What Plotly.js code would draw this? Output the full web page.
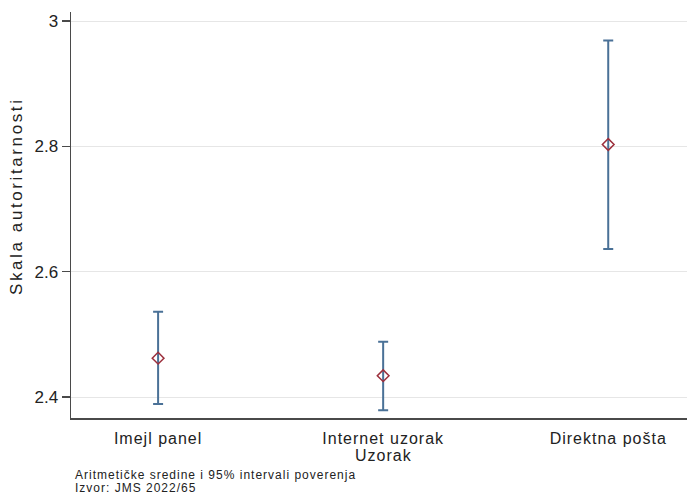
<!DOCTYPE html>
<html>
<head>
<meta charset="utf-8">
<script src="https://cdn.plot.ly/plotly-3.0.1.min.js"></script>
<style>html,body{margin:0;padding:0;background:#fff;}#chart{width:687px;height:499px;}</style>
</head>
<body>
<div id="chart"></div>
<script>
const categories = ["Imejl panel", "Internet uzorak", "Direktna pošta"];
const positions = [1, 2, 3];
const means = [2.462, 2.434, 2.803];
const upper = [2.536, 2.488, 2.969];
const lower = [2.389, 2.379, 2.636];
const yTicks = [2.4, 2.6, 2.8, 3];
const yTickLabels = ["2.4", "2.6", "2.8", "3"];
const yTitle = "Skala autoritarnosti";
const xTitle = "Uzorak";
const noteLines = ["Aritmetičke sredine i 95% intervali poverenja", "Izvor: JMS 2022/65"];

const errPlus = means.map((m, i) => upper[i] - m);
const errMinus = means.map((m, i) => m - lower[i]);

const trace = {
  type: "scatter",
  mode: "markers",
  x: positions,
  y: means,
  marker: {symbol: "diamond-open", size: 9, color: "#9c2f3c", line: {width: 1.5, color: "#9c2f3c"}},
  error_y: {type: "data", symmetric: false, array: errPlus, arrayminus: errMinus,
            color: "#4a7197", thickness: 2, width: 5},
  cliponaxis: false,
  hoverinfo: "skip"
};

const font = "Liberation Sans, Arial, sans-serif";
const W = 687, H = 499;
const mL = 71, mR = 0, mT = 12, mB = 81;
const pw = W - mL - mR, ph = H - mT - mB;
const px = x => (x - mL) / pw;
const py = y => (H - mB - y) / ph;
const NOTE_LEFT = 75;

const layout = {
  width: W, height: H,
  margin: {l: mL, r: mR, t: mT, b: mB},
  paper_bgcolor: "#fff", plot_bgcolor: "#fff",
  showlegend: false,
  font: {family: font, color: "#222"},
  xaxis: {
    range: [0.613, 3.35],
    tickvals: positions, ticktext: categories,
    showgrid: false, zeroline: false,
    showline: true, linecolor: "#4a4a4a", linewidth: 1.5,
    ticks: "", ticklabelstandoff: 5,
    tickfont: {size: 16, color: "#222", family: font}
  },
  yaxis: {
    range: [2.3665, 3.0144],
    tickvals: yTicks, ticktext: yTickLabels,
    showgrid: true, gridcolor: "#e6e6e6", gridwidth: 1,
    zeroline: false, showline: true, linecolor: "#4a4a4a", linewidth: 1.5,
    ticks: "outside", ticklen: 8, tickcolor: "#4a4a4a", tickwidth: 1.5,
    tickfont: {size: 17, color: "#222", family: font}
  },
  annotations: [
    {text: yTitle, textangle: -90, xref: "paper", yref: "paper",
     x: px(16), y: py(196), xanchor: "center", yanchor: "middle", showarrow: false,
     font: {size: 17, color: "#222", family: font}},
    {text: xTitle, xref: "paper", yref: "paper",
     x: px(384), y: py(455), xanchor: "center", yanchor: "middle", showarrow: false,
     font: {size: 16, color: "#222", family: font}},
    {text: noteLines[0], xref: "paper", yref: "paper", borderpad: 0,
     x: px(NOTE_LEFT), y: py(475.5), xanchor: "left", yanchor: "middle", showarrow: false,
     font: {size: 12, color: "#222", family: font}},
    {text: noteLines[1], xref: "paper", yref: "paper", borderpad: 0,
     x: px(NOTE_LEFT), y: py(488.5), xanchor: "left", yanchor: "middle", showarrow: false,
     font: {size: 12, color: "#222", family: font}}
  ]
};

Plotly.newPlot("chart", [trace], layout, {displayModeBar: false, staticPlot: true}).then(gd => {
  // the reference text is set a little wider than plain Arial
  gd.querySelectorAll(".xtick text").forEach(t => t.style.letterSpacing = "1px");
  const ann = gd.querySelectorAll(".annotation-text");
  if (ann[0]) ann[0].style.letterSpacing = "2.6px";
  if (ann[1]) ann[1].style.letterSpacing = "1px";
  const chartLeft = gd.getBoundingClientRect().left;
  [2, 3].forEach(i => {
    const t = ann[i];
    if (!t) return;
    t.style.letterSpacing = "1px";
    const left = t.getBoundingClientRect().left - chartLeft;
    const dx = NOTE_LEFT - left;
    const prev = t.getAttribute("transform") || "";
    t.setAttribute("transform", prev + " translate(" + dx + ",0)");
  });
});
</script>
</body>
</html>
